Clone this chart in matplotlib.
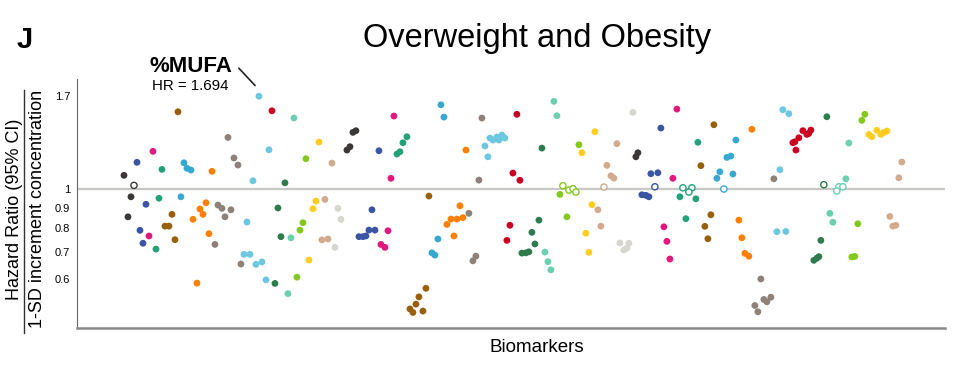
import matplotlib
matplotlib.use('Agg')
import matplotlib.pyplot as plt

plt.rcParams['font.family'] = ['Liberation Sans', 'DejaVu Sans']

# position along the biomarker axis (order) and hazard ratio, one group per colour
dark_x = [47, 54, 51, 276, 279, 270, 273, 559, 561]
dark_hr = [1.081, 0.957, 0.854, 1.380, 1.393, 1.248, 1.272, 1.201, 1.229]

blue_x = [60, 69, 63, 66, 302, 295, 292, 298, 282, 286, 289, 584, 574, 581, 565, 569, 572]
blue_hr = [1.164, 0.917, 0.791, 0.735, 1.243, 0.889, 0.792, 0.792, 0.763, 0.763, 0.766,
           1.414, 1.091, 1.097, 0.968, 0.965, 0.957]

mag_x = [76, 72, 317, 314, 311, 304, 308, 600, 596, 587, 590, 593]
mag_hr = [1.239, 0.766, 1.514, 1.063, 0.789, 0.730, 0.718, 1.575, 1.063, 0.807, 0.743, 0.672]

teal_x = [85, 82, 79, 330, 326, 323, 320, 621, 603, 619, 609]
teal_hr = [1.118, 0.949, 0.711, 1.346, 1.301, 1.236, 1.220, 1.304, 0.957, 0.946, 0.845]

lblue_x = [107, 110, 114, 104, 364, 367, 361, 355, 358, 659, 650, 654, 643, 640, 656]
lblue_hr = [1.161, 1.125, 1.114, 0.957, 1.614, 1.505, 0.753, 0.696, 0.687, 1.321, 1.197,
            1.206, 1.103, 1.063, 1.089]

cyan_x = [182, 192, 176, 170, 167, 173, 179, 185, 189, 413, 416, 420, 422, 425, 428, 408,
          411, 706, 712, 703, 700, 709]
cyan_hr = [1.694, 1.250, 1.048, 0.829, 0.690, 0.690, 0.652, 0.661, 0.597, 1.336, 1.321,
           1.344, 1.321, 1.359, 1.336, 1.277, 1.201, 1.569, 1.534, 1.116, 0.785, 0.786]

brown_x = [101, 95, 88, 92, 98, 352, 349, 342, 339, 333, 336, 346, 637, 624, 634, 628, 631]
brown_hr = [1.551, 0.866, 0.810, 0.810, 0.750, 0.961, 0.569, 0.542, 0.520, 0.506, 0.496,
            0.500, 1.441, 1.142, 0.864, 0.809, 0.754]

orange_x = [135, 129, 123, 126, 116, 132, 120, 389, 383, 374, 380, 386, 370, 377, 675, 662,
            665, 668, 672]
orange_hr = [1.106, 0.925, 0.893, 0.866, 0.842, 0.776, 0.586, 1.248, 0.909, 0.843, 0.843,
             0.850, 0.818, 0.766, 1.404, 0.838, 0.758, 0.694, 0.683]

gbrown_x = [141, 145, 154, 148, 138, 151, 157, 161, 164, 405, 402, 392, 399, 396, 697, 684,
            687, 690, 694, 678, 681]
gbrown_hr = [0.913, 0.896, 0.889, 0.854, 0.730, 1.341, 1.193, 1.146, 0.653, 1.497, 1.052,
             0.871, 0.683, 0.665, 1.060, 0.600, 0.534, 0.527, 0.541, 0.516, 0.498]

red_x = [195, 440, 436, 443, 433, 430, 726, 734, 730, 732, 722, 718, 716, 719]
red_hr = [1.560, 1.529, 1.095, 1.051, 0.814, 0.747, 1.393, 1.398, 1.364, 1.372, 1.338,
          1.308, 1.301, 1.248]

mint_x = [217, 214, 211, 477, 480, 468, 471, 474, 772, 769, 753, 756]
mint_hr = [1.497, 0.758, 0.552, 1.646, 1.517, 0.699, 0.662, 0.632, 1.299, 1.060, 0.871, 0.828]

dgreen_x = [208, 201, 204, 198, 465, 462, 455, 458, 445, 449, 452, 750, 744, 737, 740, 742]
dgreen_hr = [1.036, 0.898, 0.763, 0.585, 1.262, 0.838, 0.782, 0.732, 0.695, 0.696, 0.700,
             1.508, 0.747, 0.667, 0.675, 0.681]

yellow_x = [242, 239, 236, 232, 518, 505, 515, 509, 512, 792, 800, 804, 807, 810, 795]
yellow_hr = [1.306, 0.934, 0.894, 0.668, 1.385, 1.229, 0.915, 0.778, 0.698, 1.364, 1.396,
             1.364, 1.380, 1.390, 1.346]

lime_x = [229, 226, 223, 220, 502, 483, 490, 788, 785, 781, 775, 778]
lime_hr = [1.188, 0.826, 0.792, 0.606, 1.286, 0.970, 0.854, 1.529, 1.477, 0.821, 0.680, 0.682]

tan_x = [255, 248, 245, 251, 540, 530, 534, 537, 521, 524, 825, 822, 813, 816, 819]
tan_hr = [1.159, 0.943, 0.749, 0.753, 1.294, 1.144, 1.078, 1.064, 0.889, 0.810, 1.166,
          1.066, 0.856, 0.810, 0.814]

lgray_x = [261, 264, 258, 556, 543, 552, 547, 550]
lgray_hr = [0.896, 0.842, 0.718, 1.546, 0.736, 0.735, 0.707, 0.715]

# non-significant results drawn as open circles
open_x = [57, 486, 492, 496, 499, 527, 578, 606, 615, 612, 647, 747, 762, 766, 760]
open_hr = [1.021, 1.019, 0.994, 1.002, 0.983, 1.011, 1.013, 1.007, 1.007, 0.983, 1.000,
           1.025, 1.013, 1.013, 0.989]
open_colors = ['#3d3838', '#84c91f', '#84c91f', '#84c91f', '#84c91f', '#d2aa8e', '#3b55a5',
               '#26a07a', '#26a07a', '#26a07a', '#35a9cf', '#2e7b4d', '#6ccfb1', '#6ccfb1',
               '#6ccfb1']

y_ticks = [0.6, 0.7, 0.8, 0.9, 1, 1.7]
y_tick_labels = ['0.6', '0.7', '0.8', '0.9', '1', '1.7']

groups = [
    (dark_x, dark_hr, '#3d3838'),
    (blue_x, blue_hr, '#3b55a5'),
    (mag_x, mag_hr, '#e2187f'),
    (teal_x, teal_hr, '#26a07a'),
    (lblue_x, lblue_hr, '#35a9cf'),
    (cyan_x, cyan_hr, '#6bc8e0'),
    (brown_x, brown_hr, '#99600c'),
    (orange_x, orange_hr, '#ff8000'),
    (gbrown_x, gbrown_hr, '#8d8179'),
    (red_x, red_hr, '#cc0022'),
    (mint_x, mint_hr, '#6ccfb1'),
    (dgreen_x, dgreen_hr, '#2e7b4d'),
    (yellow_x, yellow_hr, '#ffcc1f'),
    (lime_x, lime_hr, '#84c91f'),
    (tan_x, tan_hr, '#d2aa8e'),
    (lgray_x, lgray_hr, '#d7d7cf'),
]

fig = plt.figure(figsize=(9.6, 3.81), dpi=100)
ax = fig.add_axes([0.0802, 0.139, 0.904, 0.6535])

ax.axhline(1, color='#c8c8c4', lw=1.6, zorder=1)

for xs, hrs, col in groups:
    ax.scatter(xs, hrs, s=24, color=col, edgecolors='none', zorder=3)
ax.scatter(open_x, open_hr, s=20, facecolors='white', edgecolors=open_colors,
           linewidths=1.0, zorder=3)

ax.set_yscale('log')
ax.set_ylim(0.454, 1.868)
ax.set_xlim(0, 868)
ax.set_yticks(y_ticks)
ax.set_yticklabels(y_tick_labels, fontsize=8)
ax.minorticks_off()
ax.tick_params(axis='y', length=0, pad=5)
ax.set_xticks([])

for side in ['top', 'right']:
    ax.spines[side].set_visible(False)
ax.spines['left'].set_color('#666666')
ax.spines['left'].set_linewidth(0.8)
ax.spines['bottom'].set_color('#888888')
ax.spines['bottom'].set_linewidth(1.8)

# label of the top hit
mufa_i = cyan_hr.index(max(cyan_hr))
ax.annotate('', xy=(cyan_x[mufa_i] - 2, 1.78), xytext=(160, 2.01), textcoords='data',
            arrowprops=dict(arrowstyle='-', color='#222222', lw=1.2), annotation_clip=False)
fig.text(191 / 960, 1 - 66 / 381, '%MUFA', fontsize=16, fontweight='bold',
         ha='center', va='center')
fig.text(190 / 960, 1 - 86 / 381, 'HR = %.3f' % cyan_hr[mufa_i], fontsize=10.8,
         ha='center', va='center')

fig.text(537 / 960, 1 - 38 / 381, 'Overweight and Obesity', fontsize=23.5,
         ha='center', va='center')
fig.text(25 / 960, 1 - 40 / 381, 'J', fontsize=21, fontweight='bold',
         ha='center', va='center')
fig.text(537 / 960, 1 - 348 / 381, 'Biomarkers', fontsize=13.5, ha='center', va='center')

# stacked y label: numerator / denominator
fig.text(15 / 960, 1 - 209 / 381, 'Hazard Ratio (95% CI)', fontsize=13,
         rotation=90, ha='center', va='center')
fig.text(38 / 960, 1 - 209 / 381, '1-SD increment concentration', fontsize=13,
         rotation=90, ha='center', va='center')
fig.add_artist(plt.Line2D([24 / 960, 24 / 960], [1 - 333 / 381, 1 - 90 / 381],
                          color='#333333', lw=1.0))

fig.savefig('out.png', dpi=100)
